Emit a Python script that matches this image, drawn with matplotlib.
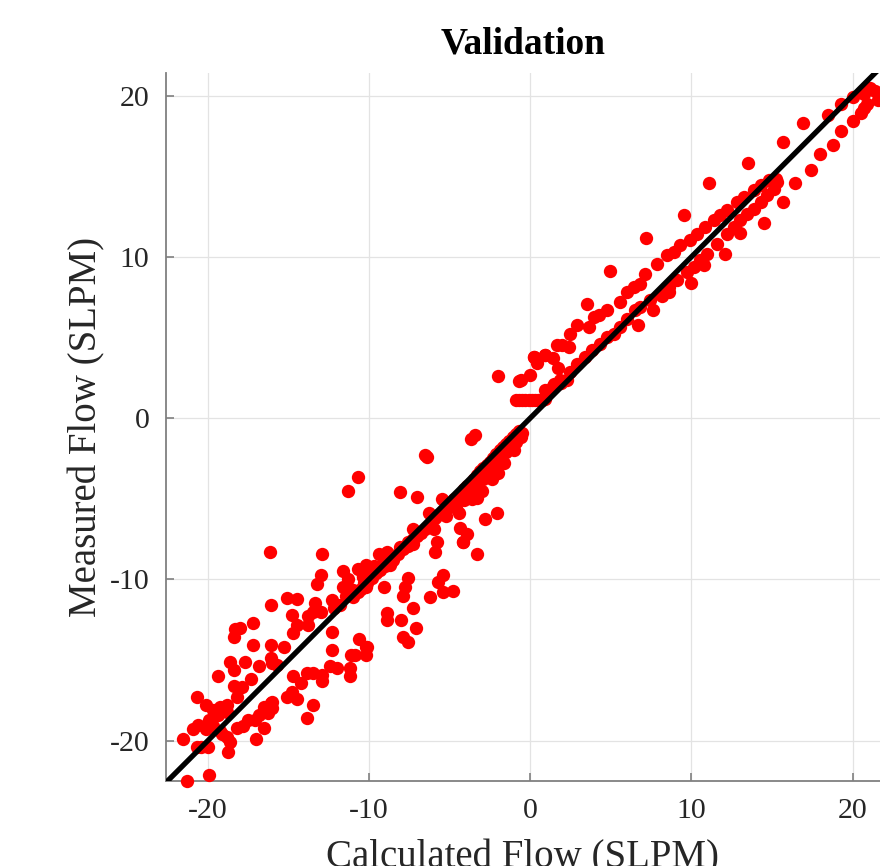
import matplotlib
matplotlib.use("Agg")
import matplotlib.pyplot as plt
import numpy as np

plt.rcParams['font.family'] = ['Liberation Serif', 'DejaVu Serif']
plt.rcParams['axes.unicode_minus'] = False

# measured vs calculated flow (SLPM)
# scattered points on the negative side
calc_neg = [-16.15, -12.9, -9.4, -8.7, -8.1, -7.6, -7.3, -5.8, -5.9, -4.2, -3.3,
            -11.6, -10.7, -10.2, -10.1, -10.4, -10.1, -10.2, -9.1, -8.7, -8.5,
            -13.0, -13.2, -11.3, -11.6, -11.4, -11.0, -9.1, -7.6, -7.8, -7.9,
            -5.4, -5.7, -6.2, -5.4, -4.8, -15.1, -14.5, -13.35, -13.0, -13.5, -13.8,
            -16.1, -12.3, -12.2, -11.8, -14.8, -14.5, -14.7, -13.8, -12.3, -12.3,
            -10.6, -10.2, -10.1, -11.1, -10.9, -10.2, -8.9, -8.9, -8.0, -7.3, -7.1,
            -7.9, -7.6, -18.3, -18.0, -18.4, -17.2, -17.2, -16.1, -15.3,
            -18.6, -18.4, -17.7, -16.1, -16.0, -15.7, -16.8, -19.4, -17.3, -18.4,
            -17.9, -18.2, -20.7, -20.1, -19.7, -19.25, -18.8, -18.8, -19.4, -19.9,
            -19.7, -20.1, -19.25, -20.9, -20.6, -21.55, -20.7, -20.4, -20.0, -18.75,
            -19.1, -18.8, -18.6, -18.2, -17.8, -17.5, -17.1, -16.8, -16.3, -16.0,
            -16.0, -16.1, -16.5, -16.5, -17.0, -13.85, -13.5, -15.1, -14.8, -14.5,
            -14.7, -14.2, -13.85, -13.5, -12.9, -12.9, -12.4, -12.0, -11.2, -11.2,
            -21.3, -19.9, -10.7, -11.3, -8.1, -7.0, -2.05, -2.8, -4.35, -3.9, -4.2,
            -3.3, -3.4, -3.65, -6.5, -6.4]
meas_neg = [-8.3, -8.4, -8.4, -8.5, -8.0, -7.7, -7.8, -7.7, -8.3, -7.7, -8.4,
            -9.5, -9.35, -9.1, -9.5, -9.85, -10.2, -10.5, -8.8, -9.1, -8.8,
            -9.7, -10.3, -10.0, -10.5, -11.0, -10.65, -10.5, -9.9, -10.5, -11.0,
            -9.7, -10.15, -11.1, -10.8, -10.7, -11.15, -11.2, -11.45, -12.0, -12.0, -12.3,
            -11.6, -11.3, -11.8, -11.6, -12.2, -12.8, -13.3, -12.8, -13.25, -14.4,
            -13.7, -14.2, -14.2, -14.7, -14.7, -14.7, -12.1, -12.5, -12.5, -11.8, -13.0,
            -13.6, -13.9, -13.1, -13.0, -13.6, -12.7, -14.1, -14.1, -14.2,
            -15.1, -15.6, -15.1, -14.9, -15.2, -15.3, -15.4, -16.0, -16.2, -16.6,
            -16.7, -17.3, -17.3, -17.8, -18.1, -17.9, -17.8, -18.2, -18.4, -18.7,
            -19.1, -19.3, -19.4, -19.3, -19.0, -19.9, -20.4, -20.4, -20.4, -20.7,
            -19.6, -19.75, -20.1, -19.2, -19.1, -18.7, -18.7, -18.4, -18.3, -18.0,
            -17.6, -17.65, -17.9, -19.2, -19.9, -18.6, -17.8, -17.3, -17.0, -17.4,
            -16.0, -16.4, -15.8, -15.8, -15.9, -16.3, -15.4, -15.5, -15.5, -16.0,
            -22.5, -22.1, -3.65, -4.5, -4.6, -4.9, -5.9, -6.25, -6.8, -7.2, -7.7,
            -4.95, -1.05, -1.3, -2.3, -2.4]

# dense band hugging the 1:1 line, negative side
calc_band_neg = [-11.0, -10.7, -10.5, -10.3, -10.0, -9.8, -9.6, -9.3, -9.0, -8.8, -8.5,
                 -8.2, -7.9, -7.6, -7.3, -7.0, -6.8, -6.5, -6.2, -5.9, -5.7, -5.4,
                 -5.1, -4.9, -4.7, -4.5, -4.3, -4.1, -3.9, -3.7, -3.5, -3.3, -3.1,
                 -2.9, -2.7, -2.5, -2.3, -2.1, -1.9, -1.7, -1.5, -1.3, -1.1, -0.9, -0.7,
                 -6.0, -5.2, -4.6, -4.1, -3.7, -3.3, -2.9, -2.5, -2.1, -1.8, -1.5,
                 -1.2, -0.9, -0.6, -3.0, -2.4, -3.6, -4.4, -1.0, -1.6, -2.0, -0.5,
                 -7.3, -6.3, -5.5, -8.9, -9.7, -10.4]
meas_band_neg = [-11.1, -10.8, -10.6, -10.2, -10.0, -9.9, -9.6, -9.4, -9.2, -8.9, -8.6,
                 -8.4, -8.1, -7.9, -7.5, -7.3, -7.1, -6.9, -6.6, -6.2, -6.0, -5.8,
                 -5.5, -5.3, -5.0, -4.8, -4.7, -4.4, -4.2, -4.0, -3.8, -3.5, -3.3,
                 -3.1, -2.9, -2.7, -2.5, -2.2, -2.0, -1.8, -1.6, -1.4, -1.2, -1.0, -0.8,
                 -6.9, -6.1, -5.6, -5.1, -4.6, -4.2, -3.8, -3.4, -2.9, -2.5, -2.1,
                 -1.8, -1.5, -1.2, -4.5, -3.8, -5.0, -5.9, -2.0, -2.8, -3.4, -0.9,
                 -6.9, -5.9, -5.0, -8.3, -9.2, -9.8]

# positive side: points near zero, upper band, lower band, outliers
calc_pos = [-2.0, -0.7, 0.0, 0.25, 0.9, 0.4, -0.6, 1.4, 1.7,
            -0.9, -0.7, -0.5, -0.3, -0.1, 0.1, 0.3, 0.5, 0.7, 0.9,
            1.05, 1.4, 1.9, 2.3,
            0.21, 0.93, 1.66, 1.97, 2.38, 2.48, 2.9, 3.62, 3.93, 4.24, 4.76, 5.59,
            6.0, 6.42, 6.83, 7.14, 7.87, 8.49, 8.9, 9.32, 9.94, 10.35, 10.87, 11.39,
            11.8, 12.21, 12.84, 13.25, 13.87, 14.29, 14.8, 15.22,
            0.93, 1.45, 1.86, 2.48, 2.9, 3.42, 3.83, 4.35, 4.76, 5.18, 5.59, 6.0,
            6.52, 6.83, 7.45, 8.07, 8.59, 9.11, 9.73, 10.14, 10.56, 10.97, 11.6,
            12.21, 12.63, 13.04, 13.46, 13.87, 14.29, 14.7, 15.12, 15.32,
            21.1, 21.4, 21.55, 20.9, 20.7, 20.5, 20.0, 20.0, 20.7, 19.25, 18.5,
            16.95, 19.25, 18.8, 18.0, 17.4, 16.4, 15.7, 15.7, 13.5, 11.1, 9.55,
            7.2, 4.95, 3.55, 14.5, 13.0, 12.1, 10.75, 9.95, 8.6, 8.2, 7.6, 6.7]
meas_pos = [2.6, 2.3, 2.7, 3.8, 3.9, 3.4, 2.35, 3.7, 3.1,
            1.1, 1.1, 1.1, 1.1, 1.1, 1.1, 1.1, 1.1, 1.1, 1.2,
            1.7, 2.0, 2.15, 2.35,
            3.8, 3.9, 4.51, 4.51, 4.41, 5.24, 5.75, 5.65, 6.27, 6.38, 6.69, 7.2,
            7.82, 8.13, 8.34, 8.96, 9.57, 10.09, 10.3, 10.71, 11.02, 11.44, 11.85, 12.26,
            12.57, 12.88, 13.4, 13.7, 14.12, 14.43, 14.74, 14.85,
            1.73, 2.14, 2.35, 2.86, 3.38, 3.8, 4.21, 4.62, 5.03, 5.24, 5.65, 6.17,
            6.69, 6.89, 7.31, 7.72, 8.13, 8.55, 9.06, 9.37, 9.78, 10.19, 10.81,
            11.44, 11.85, 12.26, 12.67, 12.98, 13.4, 13.81, 14.22, 14.64,
            20.5, 20.3, 19.7, 19.5, 19.25, 18.9, 18.45, 19.9, 20.1, 19.5, 18.8,
            18.3, 17.8, 16.95, 16.4, 15.4, 14.6, 13.4, 17.1, 15.8, 14.55, 12.6,
            11.15, 9.1, 7.05, 12.1, 11.45, 10.2, 9.5, 8.4, 7.8, 7.55, 6.7, 5.75]

x_ticks = [-20, -10, 0, 10, 20]
y_ticks = [-20, -10, 0, 10, 20]

calc = np.concatenate([calc_neg, calc_band_neg, calc_pos])
meas = np.concatenate([meas_neg, meas_band_neg, meas_pos])

fig = plt.figure(figsize=(8.8, 8.66), dpi=100)
ax = fig.add_axes([0.1886, 0.0982, 0.8114, 0.8175])

ax.plot(calc, meas, 'o', color='#ff0000', markersize=9.6, markeredgewidth=0,
        clip_on=False, zorder=3)
ax.axline((0, 0), slope=1, color='black', linewidth=3.8, zorder=4)

ax.set_xlim(-22.6, 21.7)
ax.set_ylim(-22.5, 21.4)
ax.set_xticks(x_ticks)
ax.set_yticks(y_ticks)

ax.grid(True, color='#e3e3e3', linewidth=0.9)
ax.set_axisbelow(True)
for side in ['top', 'right']:
    ax.spines[side].set_visible(False)
for side in ['left', 'bottom']:
    ax.spines[side].set_color('#808080')
    ax.spines[side].set_linewidth(1.3)

ax.tick_params(direction='in', length=6, width=1.2, color='#808080',
               labelsize=21.5, labelcolor='#262626', pad=12)

ax.set_title('Validation', fontsize=27, fontweight='bold', pad=14)
ax.set_xlabel('Calculated Flow (SLPM)', fontsize=28, color='#262626', labelpad=11)
ax.set_ylabel('Measured Flow (SLPM)', fontsize=28, color='#262626', labelpad=3)

fig.savefig('out.png', dpi=100)
